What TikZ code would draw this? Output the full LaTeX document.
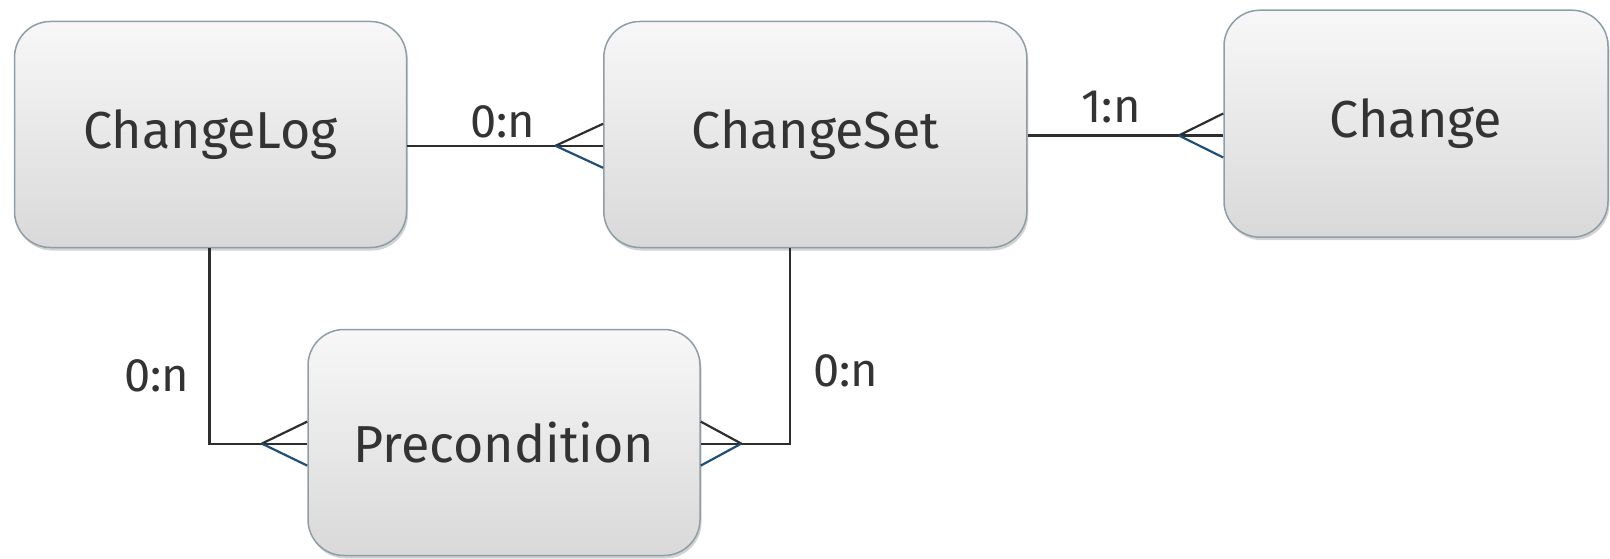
\documentclass[tikz,border=0pt]{standalone}
\usepackage{fontspec}
\setmainfont{Fira Sans}
\usetikzlibrary{shadows,calc}
\definecolor{txt}{HTML}{333333}
\definecolor{edge}{HTML}{2E2E2E}
\definecolor{prong}{HTML}{1F4E79}
\definecolor{boxline}{HTML}{8C9FA6}
\tikzset{
  entity/.style={draw=boxline, line width=1.5pt, rounded corners=36pt,
    top color=black!3, bottom color=black!15,
    drop shadow={opacity=0.35, shadow xshift=1.5pt, shadow yshift=-3pt},
    text=txt, font=\fontsize{52}{60}\selectfont, inner sep=0pt},
  rel/.style={draw=edge, line width=2.2pt},
  relb/.style={draw=prong, line width=2.2pt},
  card/.style={text=txt, font=\fontsize{47}{54}\selectfont, inner sep=0pt}
}
\begin{document}
\begin{tikzpicture}[x=1pt,y=-1pt]
\useasboundingbox (0,0) rectangle (1610,559);
\node[entity, minimum width=392pt, minimum height=226pt] (CL) at (210.5,134.5) {ChangeLog};
\node[entity, minimum width=423pt, minimum height=226pt] (CS) at (815.3,134.5) {ChangeSet};
\node[entity, minimum width=384pt, minimum height=227pt] (CH) at (1416,123.7) {Change};
\node[entity, minimum width=392pt, minimum height=226pt] (PC) at (504,442.5) {Precondition};

% ChangeLog - ChangeSet
\coordinate (v1) at (555.5,145.8);
\draw[rel] (CL.east |- v1) -- (CS.west |- v1);
\draw[rel] (v1) -- ([yshift=22pt]CS.west |- v1);
\draw[relb] (v1) -- ([yshift=-22pt]CS.west |- v1);
\node[card] (l1) at (503,122) {0:n};

% ChangeSet - Change
\coordinate (v2) at (1178.8,135.5);
\draw[rel] (CS.east |- v2) -- (CH.west |- v2);
\draw[rel] (v2) -- ([yshift=22pt]CH.west |- v2);
\draw[relb] (v2) -- ([yshift=-22pt]CH.west |- v2);
\node[card] (l2) at (1111,107) {1:n};

% ChangeLog - Precondition
\coordinate (c3) at (209.5,443.6);
\coordinate (v3) at (261.8,443.6);
\draw[rel] (c3 |- CL.south) -- (c3) -- (PC.west |- c3);
\draw[rel] (v3) -- ([yshift=22pt]PC.west |- v3);
\draw[relb] (v3) -- ([yshift=-22pt]PC.west |- v3);
\node[card] (l3) at (157,376) {0:n};

% ChangeSet - Precondition
\coordinate (c4) at (789.6,443.6);
\coordinate (v4) at (741.3,443.6);
\draw[rel] (c4 |- CS.south) -- (c4) -- (PC.east |- c4);
\draw[rel] (v4) -- ([yshift=22pt]PC.east |- v4);
\draw[relb] (v4) -- ([yshift=-22pt]PC.east |- v4);
\node[card] (l4) at (846,371) {0:n};
\end{tikzpicture}
\end{document}
